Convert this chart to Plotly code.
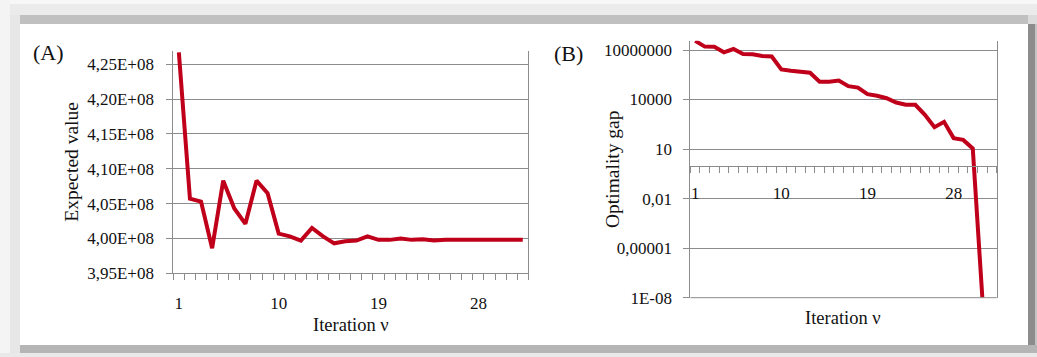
import plotly.graph_objects as go

# ---------------- data ----------------
iterations_a = list(range(1, 33))
expected_value = [4.267e8, 4.057e8, 4.053e8, 3.986e8, 4.083e8, 4.043e8, 4.021e8, 4.083e8,
                  4.065e8, 4.007e8, 4.003e8, 3.997e8, 4.015e8, 4.003e8, 3.993e8, 3.996e8,
                  3.997e8, 4.003e8, 3.998e8, 3.998e8, 4.000e8, 3.998e8, 3.999e8, 3.997e8,
                  3.998e8, 3.998e8, 3.998e8, 3.998e8, 3.998e8, 3.998e8, 3.998e8, 3.998e8]

iterations_b = list(range(1, 32))
optimality_gap = [3.6e7, 1.6e7, 1.55e7, 7.2e6, 1.15e7, 5.7e6, 5.5e6, 4.3e6, 4.0e6, 6.7e5,
                  5.6e5, 5.2e5, 4.2e5, 1.2e5, 1.2e5, 1.4e5, 6.5e4, 5.3e4, 2.1e4, 1.7e4,
                  1.2e4, 6.6e3, 4.8e3, 4.8e3, 1.2e3, 213, 445, 46, 36, 11, 1e-8]

x_tickvals = [1, 10, 19, 28]
x_ticktext = ["1", "10", "19", "28"]

a_tickvals = [3.95e8, 4.00e8, 4.05e8, 4.10e8, 4.15e8, 4.20e8, 4.25e8]
a_ticktext = ["3,95E+08", "4,00E+08", "4,05E+08", "4,10E+08", "4,15E+08", "4,20E+08", "4,25E+08"]

b_tickvals = [1e-8, 1e-5, 1e-2, 10, 1e4, 1e7]
b_ticktext = ["1E-08", "0,00001", "0,01", "10", "10000", "10000000"]

# ---------------- layout helpers ----------------
W, H = 1037, 357
def fx(px):
    return px / W
def fy(py):
    return 1 - py / H

FONT = "Liberation Serif"
TXT = "#111111"
GRID = "#8c8c8c"
RED = "#c0001a"

fig = go.Figure()
fig.add_trace(go.Scatter(x=iterations_a, y=expected_value, mode="lines",
                         line=dict(color=RED, width=4), xaxis="x", yaxis="y",
                         showlegend=False, hoverinfo="x+y"))
fig.add_trace(go.Scatter(x=iterations_b, y=optimality_gap, mode="lines",
                         line=dict(color=RED, width=4), xaxis="x2", yaxis="y2",
                         showlegend=False, hoverinfo="x+y"))

minor_bounds = [i + 0.5 for i in range(0, 33)]

def x_axis(**extra):
    d = dict(range=[0.5, 32.5], tickmode="array", tickvals=list(x_tickvals),
             ticktext=list(x_ticktext), ticks="", showgrid=False, zeroline=False,
             showline=True, linecolor=GRID, linewidth=1, automargin=False,
             tickfont=dict(family=FONT, size=17, color=TXT),
             minor=dict(tickmode="array", tickvals=list(minor_bounds), ticks="outside",
                        ticklen=6, tickcolor=GRID, tickwidth=1, showgrid=False))
    d.update(extra)
    return d

# panel A
fig.update_layout(
    xaxis=x_axis(domain=[fx(173.3), fx(528.3)], anchor="y", ticklabelstandoff=14),
    yaxis=dict(domain=[fy(273.3), fy(50.7)], anchor="x", range=[3.95e8, 4.2695e8],
               tickmode="array", tickvals=a_tickvals, ticktext=a_ticktext, automargin=False,
               ticks="outside", ticklen=6, tickcolor=GRID, showgrid=True, gridcolor=GRID,
               gridwidth=1, zeroline=False, showline=True, linecolor=GRID, mirror=True,
               ticklabelstandoff=9, tickfont=dict(family=FONT, size=17, color=TXT)),
)

# panel B
b_range = [-8, 7.563]
axis_pos = fy(297.7) + (0 - b_range[0]) / (b_range[1] - b_range[0]) * (fy(40.7) - fy(297.7))
fig.update_layout(
    xaxis2=x_axis(domain=[fx(690.4), fx(996.7)], anchor="free", position=axis_pos,
                  ticklabelstandoff=12),
    yaxis2=dict(domain=[fy(297.7), fy(40.7)], anchor="x2", type="log", range=b_range,
                tickmode="array", tickvals=b_tickvals, ticktext=b_ticktext, automargin=False,
                ticks="outside", ticklen=6, tickcolor=GRID, showgrid=True, gridcolor=GRID,
                gridwidth=1, zeroline=False, showline=True, linecolor=GRID, mirror=True,
                ticklabelstandoff=8, tickfont=dict(family=FONT, size=17, color=TXT)),
)

shapes = [
    # frame / shadow bands
    dict(type="rect", xref="paper", yref="paper", x0=0, x1=1, y0=fy(4), y1=1,
         fillcolor="#f7f7f7", line=dict(width=0), layer="below"),
    dict(type="rect", xref="paper", yref="paper", x0=0, x1=fx(10), y0=0, y1=1,
         fillcolor="#f4f4f4", line=dict(width=0), layer="below"),
    dict(type="rect", xref="paper", yref="paper", x0=fx(10), x1=1, y0=fy(15), y1=fy(4),
         fillcolor="#ebebeb", line=dict(width=0), layer="below"),
    dict(type="rect", xref="paper", yref="paper", x0=fx(10), x1=fx(20), y0=fy(353), y1=fy(15),
         fillcolor="#e7e7e7", line=dict(width=0), layer="below"),
    dict(type="rect", xref="paper", yref="paper", x0=fx(20), x1=fx(1028), y0=fy(24), y1=fy(15),
         fillcolor="#c0c0c0", line=dict(width=0), layer="below"),
    dict(type="rect", xref="paper", yref="paper", x0=fx(1028), x1=1, y0=fy(24), y1=fy(15),
         fillcolor="#dcdcdc", line=dict(width=0), layer="below"),
    dict(type="rect", xref="paper", yref="paper", x0=fx(1028), x1=fx(1035), y0=fy(345), y1=fy(24),
         fillcolor="#8c8c8c", line=dict(width=0), layer="below"),
    dict(type="rect", xref="paper", yref="paper", x0=fx(1035), x1=1, y0=fy(345), y1=fy(24),
         fillcolor="#c4c4c4", line=dict(width=0), layer="below"),
    dict(type="rect", xref="paper", yref="paper", x0=fx(20), x1=1, y0=fy(353), y1=fy(345),
         fillcolor="#b5b5b5", line=dict(width=0), layer="below"),
    dict(type="rect", xref="paper", yref="paper", x0=0, x1=1, y0=0, y1=fy(353),
         fillcolor="#e9e9e9", line=dict(width=0), layer="below"),
    # panel B bottom border
    dict(type="line", xref="x2 domain", yref="y2 domain", x0=0, x1=1, y0=0, y1=0,
         line=dict(color=GRID, width=1)),
]

annotations = [
    dict(text="(A)", x=fx(48.5), y=fy(52), xref="paper", yref="paper", showarrow=False,
         font=dict(family=FONT, size=22, color=TXT), xanchor="center", yanchor="middle"),
    dict(text="(B)", x=fx(568), y=fy(53), xref="paper", yref="paper", showarrow=False,
         font=dict(family=FONT, size=22, color=TXT), xanchor="center", yanchor="middle"),
    dict(text="Expected value", x=fx(71.7), y=fy(162), xref="paper", yref="paper",
         showarrow=False, textangle=-90, font=dict(family=FONT, size=19.5, color=TXT),
         xanchor="center", yanchor="middle"),
    dict(text="Iteration ν", x=fx(350.8), y=fy(325), xref="paper", yref="paper",
         showarrow=False, font=dict(family=FONT, size=18.5, color=TXT),
         xanchor="center", yanchor="middle"),
    dict(text="Optimality gap", x=fx(612), y=fy(169), xref="paper", yref="paper",
         showarrow=False, textangle=-90, font=dict(family=FONT, size=19.5, color=TXT),
         xanchor="center", yanchor="middle"),
    dict(text="Iteration ν", x=fx(843), y=fy(318.3), xref="paper", yref="paper",
         showarrow=False, font=dict(family=FONT, size=18.5, color=TXT),
         xanchor="center", yanchor="middle"),
]

fig.update_layout(
    width=W, height=H, autosize=False,
    margin=dict(l=0, r=0, t=0, b=0, pad=0, autoexpand=False),
    paper_bgcolor="white", plot_bgcolor="rgba(0,0,0,0)",
    shapes=shapes, annotations=annotations, showlegend=False,
    font=dict(family=FONT, color=TXT),
)

page_fix = (
    "var d=document.documentElement, b=document.body;"
    "d.style.margin='0'; d.style.padding='0'; d.style.overflow='hidden';"
    "b.style.margin='0'; b.style.padding='0'; b.style.overflow='hidden';"
)

fig.write_html("out.html", config={"displayModeBar": False}, post_script=page_fix)
